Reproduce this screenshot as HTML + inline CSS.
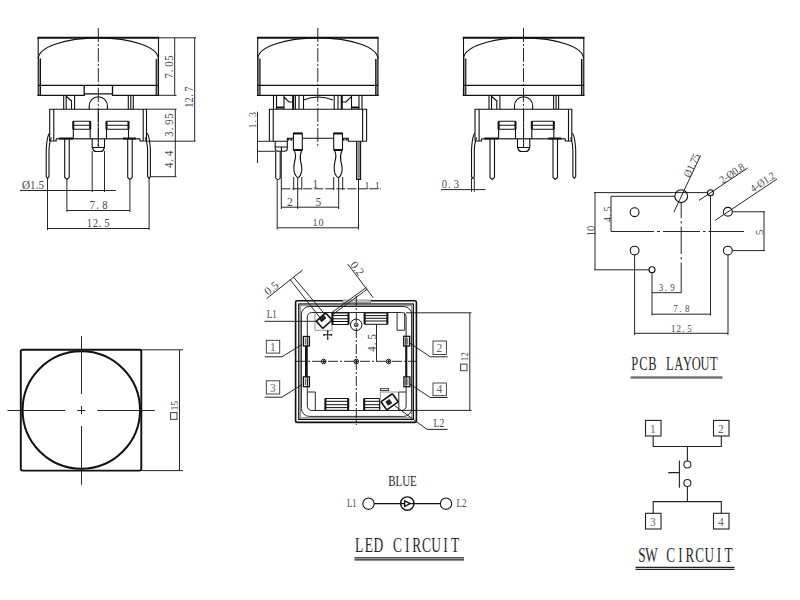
<!DOCTYPE html>
<html><head><meta charset="utf-8"><style>
html,body{margin:0;padding:0;background:#fff;}
svg{display:block;}
text{font-family:"Liberation Serif",serif;fill:#4a4a4a;}
</style></head><body>
<svg width="800" height="600" viewBox="0 0 800 600">
<defs>
<!-- ===== common front view (view1 & view3) ===== -->
<g id="cap" fill="none" stroke="#111" stroke-width="1.1">
  <rect x="38.2" y="58.5" width="2.3" height="36.8" fill="#9a9a9a" stroke="none"/>
  <rect x="156.2" y="59" width="2.3" height="36.3" fill="#9a9a9a" stroke="none"/>
  <path d="M37.4,37.8 H159.2" stroke-width="1.9"/>
  <path d="M38.2,37.8 V95.3 M158.5,37.8 V95.3 M40.5,58.5 V95.3 M156.2,59 V95.3"/>
  <path d="M38.3,58.7 A60,20.8 0 0 1 158.3,58.7"/>
  <path d="M38.2,85.4 H158.5"/>
</g>
<g id="fv" fill="none" stroke="#111" stroke-width="1.1">
  <use href="#cap"/>
  <!-- stems -->
  <path d="M63.7,95.3 V109.2 M74.6,95.3 V109.2 M66.2,96 V109 M71.5,100 V109 M66.5,96.5 L71.5,101"/>
  <path d="M128.3,95.3 V109.2 M133.3,95.3 V109.2 M130.8,95.3 V109.2"/>
  <path d="M89.2,109.2 V105.8 A9.1,9.1 0 0 1 107.4,105.8 V109.2"/>
  <!-- body -->
  <path d="M49.7,141 V109.2 H146.5 V141 M53.8,109.2 V141 M143.2,109.2 V141"/>
  <path d="M49.7,141 H56.2 V138.7 M140,138.7 V141 H146.5"/>
  <path d="M56.2,138.7 H140" stroke="#444" stroke-width="1.4"/>
  <path d="M73.3,121.2 H90.2 M73.3,125.2 H90.2 M73.3,129.3 H90.2 M73.3,121.2 V138.7 M90.2,121.2 V138.7"/>
  <path d="M106.5,121.2 H128.5 M106.5,125.2 H128.5 M106.5,129.3 H128.5 M106.5,121.2 V138.7 M128.5,121.2 V138.7"/>
  <path d="M73.3,121.2 V129.3 M90.2,121.2 V129.3 M106.5,121.2 V129.3 M128.5,121.2 V129.3" stroke-width="2"/>
  <!-- led lower -->
  <path d="M92.2,138.7 V148 M104.5,138.7 V148 M92.2,147.5 H104.5 M92.5,148 Q93.5,151.5 96,151.5 H100.7 Q103.2,151.5 104.2,148"/>
  <path d="M98.3,109.2 V147.5" stroke-width="0.9"/>
  <!-- pins -->
  <path d="M64.7,138.7 V177.5 L66.9,179.5 L69.2,177.5 V138.7"/>
  <path d="M127.7,138.7 V177.5 L129.9,179.5 L132.2,177.5 V138.7"/>
  <path d="M59,138.4 H73 M123,138.4 H136" stroke-width="2"/>
  <path d="M49.5,133 Q47,136 46.2,150 V176.5 L47.6,178.3 L49,176.5 V150 Q49.5,141 51.5,137.5"/>
  <path d="M147.1,133 Q149.6,136 150.4,150 V176.5 L149,178.3 L147.6,176.5 V150 Q147.1,141 145.1,137.5"/>
</g>
<g id="cl" fill="none" stroke="#1a1a1a" stroke-width="0.95" stroke-dasharray="12,2,2,2">
</g>
</defs>

<!-- ============ VIEW 1 ============ -->
<use href="#fv"/>
<path d="M37.4,95.3 H84.2 V85.4 M84.2,93.8 H112.5 M112.5,85.4 V95.3 H159.2" fill="none" stroke="#111" stroke-width="1.3"/>
<path d="M98.3,27.9 V148" fill="none" stroke="#1a1a1a" stroke-width="0.95" stroke-dasharray="14,2,2,2"/>
<g fill="none" stroke="#1a1a1a" stroke-width="0.95">
  <path d="M92.2,151 V192 M104.5,151 V192"/>
  <path d="M20,190.5 H116"/>
  <path d="M47.5,178 V230 M66.9,180 V212 M129.9,180 V212 M149.1,178 V230"/>
  <path d="M66.9,210.5 H129.9 M47.5,228.5 H149.1"/>
  <path d="M159,37.8 H196 M159,95.3 H176.5 M146.5,109.2 H176.5 M146.5,141.2 H195.5 M150,176.7 H176.5"/>
  <path d="M174.7,37.8 V95.3 M194.7,37.8 V141.2 M175.3,109.2 V176.7"/>
</g>
<g font-size="11.5">
  <text x="22" y="189" textLength="22" lengthAdjust="spacingAndGlyphs">Ø1.5</text>
  <text transform="translate(90,209.3) scale(0.9,1)" x="2.56 8.50 16.67" y="0" font-size="11.8" text-anchor="middle">7.8</text>
  <text transform="translate(88,227) scale(0.9,1)" x="1.67 8.15 13.52 21.11" y="0" font-size="11.8" text-anchor="middle">12.5</text>
  <text transform="translate(173,78.2) rotate(-90) scale(0.9,1)" x="2.56 8.00 15.67 22.22" y="0" font-size="11.8" text-anchor="middle">7.05</text>
  <text transform="translate(193.3,106.7) rotate(-90) scale(0.9,1)" x="1.67 7.67 12.56 19.67" y="0" font-size="11.8" text-anchor="middle">12.7</text>
  <text transform="translate(172.8,136.3) rotate(-90) scale(0.9,1)" x="2.56 8.11 15.89 22.56" y="0" font-size="11.8" text-anchor="middle">3.95</text>
  <text transform="translate(172.8,167.7) rotate(-90) scale(0.9,1)" x="2.56 8.17 16.00" y="0" font-size="11.8" text-anchor="middle">4.4</text>
</g>


<!-- ============ VIEW 2 ============ -->
<use href="#cap" transform="translate(219.5,0)"/>
<path d="M317.8,27.9 V148" fill="none" stroke="#1a1a1a" stroke-width="0.95" stroke-dasharray="14,2,2,2"/>
<g fill="none" stroke="#111" stroke-width="1.1">
  <path d="M256.9,95.3 H378.7" stroke-width="1.3"/>
  <!-- stems -->
  <path d="M273.5,95.3 V109.2 M276.5,95.3 V109.2 M284,95.5 V109 M284,97 L289,102 H293 M293.2,95.3 V109.2 M295.4,95.3 V109.2 M299,95.3 V109.2 M303.5,95.3 V109.2"/>
  <path d="M303.5,100 Q318,94 333,100"/>
  <path d="M334.2,95.3 V109.2 M338,95.3 V109.2 M341.7,95.3 V109.2 M342,102 H346 L351,97 M351.5,95.5 V109 M359,95.3 V109.2 M362,95.3 V109.2"/>
  <path d="M293.2,95.3 V109.2 M341.7,95.3 V109.2 M276.5,107.5 H284 M351.5,107.5 H359" stroke-width="2"/>
  <!-- body -->
  <path d="M269.4,141.3 V109.2 H366.6 V141.3 M273.2,109.2 V141.3 M362.6,109.2 V141.3"/>
  <path d="M269.4,141.3 H287.3 V138.3 H293.4 M302.3,138.3 H333.5 M342.5,138.3 H348.3 V141.3 H366.6"/>
  <path d="M275.2,141.3 V149 Q275.5,151.3 278,151.3 H284.5 Q287,151.3 287.3,149 V141.3 M275.2,147 H287.3 M281.4,147 V151.3"/>
  <!-- pin2 / pin3 -->
  <path d="M293.4,150 V133.2 H302.3 V150 M293.4,150 H302.3"/>
  <path d="M293.4,133.6 H302.3 M293.4,150 H302.3" stroke-width="2"/>
  <path d="M294,150 Q296.5,155 295,160 Q293,168 294.5,173 Q296.5,177.5 297.8,177.5 Q300,177.5 301.5,172 Q302.5,168 300.5,161 Q299.5,155 301.8,150"/>
  <path d="M333.7,150 V133.2 H342.5 V150 M333.7,150 H342.5"/>
  <path d="M333.7,133.6 H342.5 M333.7,150 H342.5" stroke-width="2"/>
  <path d="M334.3,150 Q336.8,155 335.3,160 Q333.3,168 334.8,173 Q336.8,177.5 338.1,177.5 Q340.3,177.5 341.8,172 Q342.8,168 340.8,161 Q339.8,155 342.1,150"/>
  <path d="M287.3,139.5 H293.4 M342.5,139.5 H348.3" stroke-width="2.2" stroke-dasharray="2,1"/>
  <!-- straight pins -->
  <path d="M275.7,151.3 V178 Q277.9,181 280.2,178 V151.3"/>
  <path d="M356.6,141.3 V179.4 H360.6 V141.3"/>
  <rect x="357.3" y="142" width="2.6" height="37" fill="#888" stroke="none"/>
</g>
<g fill="none" stroke="#1a1a1a" stroke-width="0.95">
  <path d="M277.2,180 V229.5 M281.3,151.5 V209 M358.5,180 V229.5"/>
  <path d="M293.7,177 V190 M301.8,177 V190 M297.7,177.5 V209 M333.7,177 V190 M342.7,177 V190 M338.7,177.5 V209"/>
  <path d="M281.3,188.8 H381" stroke-dasharray="9,2"/>
  <path d="M281.3,207.2 H338.7 M277.2,227.8 H358.5"/>
  <path d="M257.5,111.7 V163 M257,141.3 H269.4 M257,151.3 H275.2"/>
</g>
<g font-size="11.5">
  <text x="312.5" y="188" >1</text>
  <text transform="translate(365.5,189.3) scale(0.9,1)" x="1.58 6.22 12.97" y="0" font-size="11.2" text-anchor="middle">1.1</text>
  <text x="287" y="205.7">2</text>
  <text x="315.5" y="205.7">5</text>
  <text transform="translate(313.5,226) scale(0.9,1)" x="1.58 8.35" y="0" font-size="11.2" text-anchor="middle">10</text>
  <text transform="translate(256.3,127.4) rotate(-90) scale(0.9,1)" x="1.58 6.97 14.46" y="0" font-size="11.2" text-anchor="middle">1.3</text>
</g>

<!-- ============ VIEW 3 ============ -->
<use href="#fv" transform="translate(425.3,0)"/>
<path d="M462.7,95.3 H584.5" fill="none" stroke="#111" stroke-width="1.3"/>
<path d="M523.5,27.9 V148" fill="none" stroke="#1a1a1a" stroke-width="0.95" stroke-dasharray="14,2,2,2"/>
<g fill="none" stroke="#1a1a1a" stroke-width="0.95">
  <path d="M471.5,178 V191.8 M474.3,178 V191.8 M441,189.6 H485.5"/>
</g>
<g font-size="11.5">
  <text transform="translate(442.1,188) scale(0.9,1)" x="2.56 8.17 16.00" y="0" font-size="11.8" text-anchor="middle">0.3</text>
</g>

<!-- ============ PCB LAYOUT ============ -->
<g fill="none" stroke="#1a1a1a" stroke-width="0.95">
  <path d="M594,192.6 H707.5 M611,196.3 H675"/>
  <path d="M595,192.6 V269.8 M594,269.8 H649 M611,196.3 V231.4"/>
  <path d="M611,231.5 H654 M657,231.5 H660 M663,231.5 H700 M703,231.5 H705.5 M708.5,231.5 H744"/>
  <path d="M681.2,202.6 V218 M681.2,221 V223.5 M681.2,226.5 V254 M681.2,257 V259.5 M681.2,262.5 V292.7"/>
  <path d="M634.6,255 V335 M728,255 V335 M652,272.8 V315.5 M710.5,195.6 V315.5"/>
  <path d="M652,292.7 H681.3 M652,314.2 H710.5 M634.6,333.3 H728"/>
  <path d="M732.4,211.8 H765 M732.4,250.6 H765 M764,211.8 V250.6"/>
  <path d="M673.8,212.3 L700.6,155.4 M699,200.4 L747.7,168 M715.2,220.4 L777,179"/>
</g>
<g fill="none" stroke="#111" stroke-width="1.1">
  <circle cx="681.2" cy="196.2" r="6.4"/>
  <circle cx="710.5" cy="192.7" r="3"/>
  <circle cx="652" cy="269.8" r="3"/>
  <circle cx="634.6" cy="212.2" r="4.4"/>
  <circle cx="634.6" cy="250.6" r="4.4"/>
  <circle cx="727.9" cy="211.8" r="4.4"/>
  <circle cx="727.9" cy="250.6" r="4.4"/>
</g>
<g font-size="11">
  <text transform="translate(689.8,178.2) rotate(-64.8)" textLength="25" lengthAdjust="spacingAndGlyphs">Ø1.75</text>
  <text transform="translate(722.4,183.9) rotate(-33.6)" textLength="27.5" lengthAdjust="spacingAndGlyphs">2-Ø0.8</text>
  <text transform="translate(753.3,192.8) rotate(-33.8)" textLength="27.5" lengthAdjust="spacingAndGlyphs">4-Ø1.2</text>
  <text transform="translate(594.6,236.2) rotate(-90)" font-size="11.5" textLength="10.5" lengthAdjust="spacingAndGlyphs">10</text>
  <text transform="translate(610.7,221.7) rotate(-90) scale(0.9,1)" x="2.38 7.30 14.28" y="0" font-size="11" text-anchor="middle">4.5</text>
  <text transform="translate(762.5,235) rotate(-90)">5</text>
  <text transform="translate(659,290.6) scale(0.9,1)" x="2.17 7.61 14.95" y="0" font-size="10" text-anchor="middle">3.9</text>
  <text transform="translate(673.5,311.7) scale(0.9,1)" x="2.17 7.78 15.28" y="0" font-size="10" text-anchor="middle">7.8</text>
  <text transform="translate(672.1,331.5) scale(0.9,1)" x="1.41 7.40 12.46 19.39" y="0" font-size="10" text-anchor="middle">12.5</text>
</g>
<text transform="translate(630.3,370.4) scale(0.66,1)" x="6.67 20.00 33.33 46.67 60.00 73.33 86.67 100.00 113.33 126.67" y="0" font-size="18.9" text-anchor="middle" style="fill:#2a2a2a" >PCB LAYOUT</text>
<rect x="630.7" y="376.3" width="91.8" height="2.4" fill="#707070"/>

<!-- ============ TOP VIEW (circle in square) ============ -->
<g fill="none" stroke="#111" stroke-width="1.3">
  <rect x="20.8" y="349.8" width="120.5" height="120.8" rx="1.8" stroke-width="1.9"/>
  <circle cx="81.3" cy="410" r="58.7" stroke-width="2"/>
</g>
<g fill="none" stroke="#1a1a1a" stroke-width="0.95">
  <path d="M7.5,410.5 H65.3 M77.3,410.5 H85.3 M97.3,410.5 H154.7"/>
  <path d="M81.5,336 V394 M81.5,406 V414 M81.5,426 V484.7"/>
  <path d="M141.3,349.8 H183 M141.3,470.6 H183 M179.5,349.8 V470.6"/>
</g>
<rect x="170.6" y="412.6" width="6.4" height="6.8" fill="none" stroke="#444" stroke-width="1"/>
<text transform="translate(177.6,410.6) rotate(-90)" font-size="10.6" textLength="9.6" lengthAdjust="spacingAndGlyphs">15</text>

<!-- ============ BOTTOM VIEW ============ -->
<g fill="none" stroke="#111" stroke-width="1">
  <rect x="295.6" y="300.7" width="120.8" height="121.7" rx="1.5" stroke-width="1.6"/>
  <rect x="298.8" y="304" width="114.6" height="115.4" stroke-width="1.3"/>
  <rect x="300.3" y="305.5" width="111.6" height="112.4" stroke="#999" stroke-width="1.6"/>
  <rect x="301.4" y="306.5" width="110.3" height="109.9" rx="8" stroke-width="0.9"/>
  <rect x="307.3" y="312.5" width="98.8" height="98" rx="4.5" stroke-width="0.9"/>
  <rect x="342.8" y="300" width="28" height="2.8" fill="#c8c8c8" stroke="#666" stroke-width="0.6"/>
  <!-- chip L1 -->
  <path d="M315,312.5 V330.3 H332 V313" stroke="#888" stroke-width="0.9"/>
  <g transform="translate(324.2,320.6) rotate(-42)">
    <rect x="-6.3" y="-4.8" width="12.6" height="9.6" rx="0.8" stroke-width="1.6"/>
    <rect x="-3" y="-4.5" width="6.5" height="4" fill="#222" stroke="none"/>
  </g>
  <!-- chip L2 -->
  <path d="M380.3,392 V410.3 M380.3,392 H398" stroke="#777" stroke-width="0.8"/>
  <g transform="translate(389.6,401.8) rotate(-35)">
    <rect x="-7" y="-5" width="14" height="10" rx="1" stroke-width="1.6"/>
    <rect x="-3.5" y="-2.5" width="5" height="5" fill="#222" stroke="none"/>
  </g>
  <rect x="380.3" y="388.7" width="8.4" height="1.7" stroke-width="0.8"/>
  <!-- slots top -->
  <path d="M332.5,313 H348.5 V324.5 H332.5 Z M332.5,315.5 H348.5 M332.5,318.8 H348.5 M332.5,321.5 H348.5"/>
  <path d="M364.6,313 H387.4 V324.3 H364.6 Z M364.6,315.6 H387.4 M364.6,318.3 H387.4 M364.6,321 H387.4"/>
  <path d="M364.6,313 V324.3 M387.4,313 V324.3 M332.5,313 V324.5 M348.5,313 V324.5" stroke-width="2"/>
  <!-- slots bottom -->
  <path d="M325.4,398.5 H348.2 V410.3 H325.4 Z M325.4,401.3 H348.2 M325.4,404.7 H348.2 M325.4,407.6 H348.2"/>
  <path d="M364.2,398.5 H379.4 V410.3 H364.2 Z M364.2,401.3 H379.4 M364.2,404.7 H379.4 M364.2,407.6 H379.4"/>
  <path d="M325.4,398.5 V410.3 M348.2,398.5 V410.3 M364.2,398.5 V410.3" stroke-width="2"/>
  <!-- side rects -->
  <path d="M397.1,312.5 V330.2 H404.7 V312.5" stroke-width="0.9"/>
  <path d="M307.7,392 H315.3 V410.3" stroke-width="0.9"/>
  <path d="M398.8,410.3 V392 H406.1" stroke-width="0.9"/>
  <!-- pins -->
  <rect x="303.4" y="336.5" width="6" height="9.5" stroke-width="1.3"/>
  <rect x="303.4" y="376.9" width="6" height="9.8" stroke-width="1.3"/>
  <rect x="403.7" y="336.3" width="6" height="9.7" stroke-width="1.3"/>
  <rect x="403.9" y="376.9" width="6" height="9.8" stroke-width="1.3"/>
  <path d="M305.4,338 V344.5 M307.4,338 V344.5 M305.4,378.5 V385 M307.4,378.5 V385 M405.7,338 V344.5 M407.7,338 V344.5 M405.9,378.5 V385 M407.9,378.5 V385" stroke-width="0.7"/>
  <path d="M306,346 V376.9 M406.3,346 V376.9" stroke-width="2"/>
  <!-- circle top -->
  <circle cx="356.2" cy="324.8" r="5.7"/>
  <circle cx="356.2" cy="324.8" r="1.8"/>
  <!-- pin marks -->
  <circle cx="323.7" cy="361.5" r="2.3"/>
  <circle cx="356.3" cy="361.5" r="2.3"/>
  <circle cx="388.6" cy="361.5" r="2.3"/>
  <circle cx="323.7" cy="361.5" r="0.9" fill="#111"/>
  <circle cx="356.3" cy="361.5" r="0.9" fill="#111"/>
  <circle cx="388.6" cy="361.5" r="0.9" fill="#111"/>
  <!-- + mark -->
  <path d="M323.5,334.8 H331.8 M327.7,331 V339" stroke-width="1"/>
  <g fill="#111" stroke="none"><circle cx="324" cy="334.8" r="0.9"/><circle cx="331.4" cy="334.8" r="0.9"/><circle cx="327.7" cy="338.8" r="0.9"/><circle cx="327.7" cy="331.3" r="0.9"/></g>
</g>
<g fill="none" stroke="#1a1a1a" stroke-width="0.95">
  <path d="M296,361.3 H417" stroke-dasharray="10,2,2,2"/>
  <path d="M356.3,296 V425" stroke-dasharray="10,2,2,2"/>
  <path d="M376.5,324.5 V361"/>
  <path d="M406,312.8 H471.5 M398,410.4 H471.5 M469.8,312.8 V410.4"/>
  <!-- L1 leader -->
  <path d="M264.5,321.3 H316"/>
  <!-- 0.5 dims -->
  <path d="M290,279.5 L320.3,318 M293.5,277.2 L325,314.5"/>
  <path d="M266.7,298.5 L302.7,270" />
  <!-- 0.2 dim -->
  <path d="M331,313.2 L366.2,287.5 M332.2,314.8 L367.4,289.1"/>
  <path d="M347.7,264 L373.2,297.7"/>
  <!-- box leaders -->
  <path d="M264.7,356.8 H282 L302,344.5 M264.7,397.2 H282 L302,384.5"/>
  <path d="M409.7,343 L430.3,356.8 H447.7 M409.9,384 L430.3,397.5 H447.7"/>
  <path d="M394.6,405.6 L427,429.4 H447.7"/>
</g>
<g fill="none" stroke="#333" stroke-width="0.9">
  <rect x="266.3" y="340.3" width="13.4" height="12.8"/>
  <rect x="266.3" y="380.8" width="13.4" height="13.2"/>
  <rect x="433" y="341" width="13.4" height="13.5"/>
  <rect x="433" y="383" width="13.4" height="12.7"/>
</g>
<g font-size="11.5">
  <text x="270" y="351" style="fill:#666">1</text>
  <text x="270" y="391.8" style="fill:#666">3</text>
  <text x="436.5" y="351.5" style="fill:#666">2</text>
  <text x="436.5" y="392.5" style="fill:#666">4</text>
  <text x="266.7" y="318" textLength="10" lengthAdjust="spacingAndGlyphs">L1</text>
  <text x="433.6" y="426.8" textLength="10.8" lengthAdjust="spacingAndGlyphs">L2</text>
  <text transform="translate(375.5,351.3) rotate(-90) scale(0.9,1)" x="2.56 8.22 16.11" y="0" font-size="11.8" text-anchor="middle">4.5</text>
  <text transform="translate(268,295.8) rotate(-38.4)" textLength="14.7" lengthAdjust="spacing">0.5</text>
  <text transform="translate(349.8,265.1) rotate(52.4)" textLength="14.5" lengthAdjust="spacing">0.2</text>
  <text transform="translate(467.6,361.2) rotate(-90)" font-size="10.6" textLength="9" lengthAdjust="spacingAndGlyphs">12</text>
  <rect x="460.6" y="364.1" width="6.4" height="6.6" fill="none" stroke="#444" stroke-width="1"/>
</g>

<!-- ============ LED CIRCUIT ============ -->
<g font-size="12">
  <text x="388.2" y="485.5" font-size="14.6" textLength="28.6" lengthAdjust="spacingAndGlyphs" style="fill:#2a2a2a">BLUE</text>
  <text x="347" y="506.8" textLength="9.6" lengthAdjust="spacingAndGlyphs">L1</text>
  <text x="456.5" y="506.8" textLength="10" lengthAdjust="spacingAndGlyphs">L2</text>
</g>
<g fill="none" stroke="#111" stroke-width="1.1">
  <circle cx="368.5" cy="503.7" r="5.7"/>
  <circle cx="446" cy="503.7" r="5.7"/>
  <circle cx="407.3" cy="503.6" r="6.7" stroke-width="1.4"/>
  <path d="M374.2,503.6 H404.4 M410.3,503.6 H440.3"/>
  <path d="M404.6,500.8 V506.4 L410.3,503.6 Z" stroke-width="1.3"/>
</g>
<text transform="translate(354.4,552.3) scale(0.66,1)" x="7.27 21.82 36.36 50.91 65.45 80.00 94.55 109.09 123.64 138.18 152.73" y="0" font-size="20.4" text-anchor="middle" style="fill:#2a2a2a" >LED CIRCUIT</text>
<path d="M354.5,557.8 H464 M354.5,559.9 H464" stroke="#222" stroke-width="1.2" fill="none"/>

<!-- ============ SW CIRCUIT ============ -->
<g fill="none" stroke="#222" stroke-width="1.1">
  <rect x="645.5" y="420.4" width="15.5" height="15.6"/>
  <rect x="713.5" y="420.4" width="15.5" height="15.6"/>
  <rect x="645.5" y="513.3" width="15.5" height="15.7"/>
  <rect x="713.5" y="513.3" width="15.5" height="15.7"/>
  <path d="M653.2,436 V446.5 H721.3 V436 M687.4,446.5 V461"/>
  <circle cx="687.4" cy="464.5" r="3.5"/>
  <circle cx="687.4" cy="483" r="3.5"/>
  <path d="M687.4,486.5 V501.6 M653.2,513.3 V501.6 H721.3 V513.3"/>
  <path d="M679.4,460.4 V487.8 M668.2,472.6 H679.4"/>
</g>
<g font-size="11.5" style="fill:#666">
  <text x="650" y="432.5" style="fill:#666">1</text>
  <text x="718" y="432.5" style="fill:#666">2</text>
  <text x="650" y="525.5" style="fill:#666">3</text>
  <text x="718" y="525.5" style="fill:#666">4</text>
</g>
<text transform="translate(637.0,562.0) scale(0.66,1)" x="7.30 21.89 36.48 51.07 65.66 80.25 94.84 109.43 124.02 138.61" y="0" font-size="20.0" text-anchor="middle" style="fill:#2a2a2a" >SW CIRCUIT</text>
<path d="M635.5,567.4 H734.5 M635.5,569.4 H734.5" stroke="#222" stroke-width="1.2" fill="none"/>

</svg>
</body></html>
